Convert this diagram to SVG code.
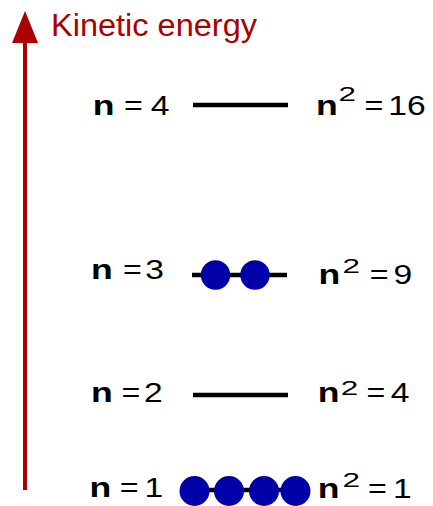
<svg xmlns="http://www.w3.org/2000/svg" width="433" height="506" viewBox="0 0 433 506">
<style>
text{font-family:"Liberation Sans",Arial,sans-serif;font-size:28px;fill:#000}
.b{font-weight:bold}
.sup{font-size:21px}
.lvl{stroke:#000;stroke-width:4.5}
.e{fill:#0000a8}
.title{font-size:31px;fill:#aa0000}
</style>
<rect width="433" height="506" fill="#fff"/>
<g id="axis">
<line x1="25" y1="490" x2="25" y2="40" stroke="#aa0000" stroke-width="4"/>
<polygon points="25,11 12,43 38,43" fill="#aa0000"/>
<text class="title" x="51" y="36" textLength="206" lengthAdjust="spacingAndGlyphs">Kinetic energy</text>
</g>
<g id="connectors"></g>
<g id="level4">
<line class="lvl" x1="193" y1="105" x2="288" y2="105"/>
<text class="b" transform="translate(92.7,115) scale(1.27,1)">n</text>
<text transform="translate(124.1,115) scale(1.15,1)">=</text>
<text transform="translate(150.8,115) scale(1.2,1)">4</text>
<text class="b" transform="translate(316,115) scale(1.27,1)">n</text>
<text class="sup" transform="translate(338.4,101) scale(1.5,1)">2</text>
<text transform="translate(364.6,115) scale(1.15,1)">=</text>
<text transform="translate(388.3,115) scale(1.2,1)">16</text>
</g>
<g id="level3">
<line class="lvl" x1="192" y1="275" x2="287" y2="275"/>
<circle class="e" cx="215.5" cy="275" r="14.7"/>
<circle class="e" cx="255" cy="275" r="14.7"/>
<text class="b" transform="translate(91,279.3) scale(1.27,1)">n</text>
<text transform="translate(123.1,279.3) scale(1.15,1)">=</text>
<text transform="translate(145.3,279.3) scale(1.2,1)">3</text>
<text class="b" transform="translate(318.4,284.3) scale(1.27,1)">n</text>
<text class="sup" transform="translate(342.4,273.3) scale(1.5,1)">2</text>
<text transform="translate(369.8,284.3) scale(1.15,1)">=</text>
<text transform="translate(393.6,284.3) scale(1.2,1)">9</text>
</g>
<g id="level2">
<line class="lvl" x1="193" y1="395" x2="288" y2="395"/>
<text class="b" transform="translate(91,401.7) scale(1.27,1)">n</text>
<text transform="translate(121.5,401.7) scale(1.15,1)">=</text>
<text transform="translate(144,401.7) scale(1.2,1)">2</text>
<text class="b" transform="translate(317.7,402.3) scale(1.27,1)">n</text>
<text class="sup" transform="translate(340.8,395) scale(1.5,1)">2</text>
<text transform="translate(366.5,402.3) scale(1.15,1)">=</text>
<text transform="translate(390.8,402.3) scale(1.2,1)">4</text>
</g>
<g id="level1">
<line class="lvl" x1="194" y1="490" x2="296" y2="490"/>
<circle class="e" cx="194.5" cy="491" r="15"/>
<circle class="e" cx="229" cy="491" r="15"/>
<circle class="e" cx="264" cy="491" r="15"/>
<circle class="e" cx="295.5" cy="491" r="15"/>
<text class="b" transform="translate(89.4,496.7) scale(1.27,1)">n</text>
<text transform="translate(119.8,496.7) scale(1.15,1)">=</text>
<text transform="translate(144.6,496.7) scale(1.2,1)">1</text>
<text class="b" transform="translate(317.7,497.7) scale(1.27,1)">n</text>
<text class="sup" transform="translate(342.4,486.7) scale(1.5,1)">2</text>
<text transform="translate(368.1,497.7) scale(1.15,1)">=</text>
<text transform="translate(393,497.7) scale(1.2,1)">1</text>
</g>
</svg>
